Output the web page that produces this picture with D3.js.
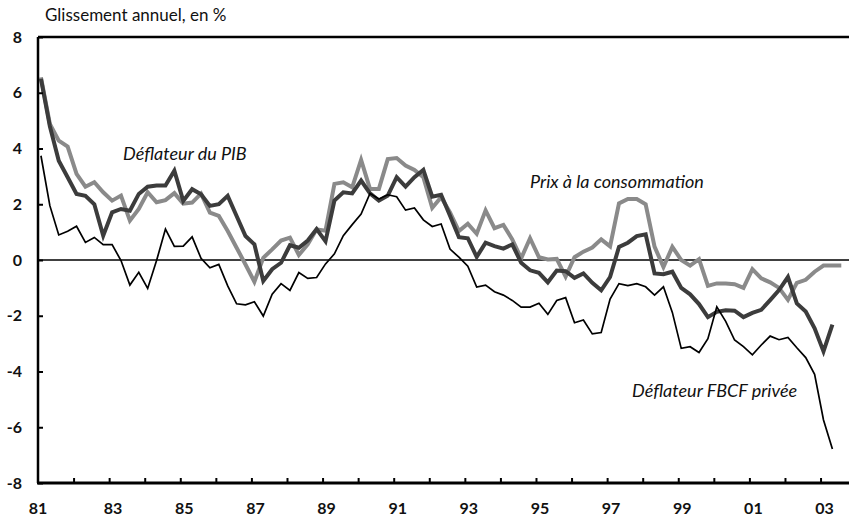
<!DOCTYPE html>
<html>
<head>
<meta charset="utf-8">
<script src="https://cdn.jsdelivr.net/npm/d3@7"></script>
<style>
  body { margin: 0; background: #fff; }
  svg { display: block; font-family: Lato, 'Open Sans', sans-serif; }
</style>
</head>
<body>
<div id="chart"></div>
<script>
// données trimestrielles, glissement annuel en %
const debut = 1981 + 1 / 12; // premier point : 1981 T1

const deflateurPib = [
  6.5, 4.8, 3.56, 2.97, 2.37, 2.3, 2.0, 0.87, 1.71, 1.83, 1.77, 2.37, 2.63, 2.67, 2.67, 3.2,
  2.12, 2.54, 2.36, 1.94, 2.0, 2.3, 1.58, 0.86, 0.56, -0.75, -0.33, -0.1, 0.53, 0.44, 0.7, 1.11,
  0.67, 2.13, 2.43, 2.39, 2.85, 2.39, 2.13, 2.31, 2.97, 2.63, 2.97, 3.23, 2.27, 2.34, 1.59, 0.82,
  0.78, 0.11, 0.62, 0.5, 0.41, 0.56, -0.1, -0.37, -0.46, -0.8, -0.38, -0.4, -0.64, -0.48, -0.82, -1.09,
  -0.61, 0.47, 0.62, 0.86, 0.92, -0.48, -0.51, -0.42, -1.0, -1.23, -1.58, -2.05, -1.86, -1.8, -1.82, -2.05,
  -1.9, -1.79, -1.44, -1.08, -0.61, -1.56, -1.85, -2.45, -3.28, -2.32
];

const prixConso = [
  6.55, 4.88, 4.28, 4.07, 3.09, 2.63, 2.79, 2.43, 2.13, 2.31, 1.41, 1.83, 2.43, 2.07, 2.15, 2.4,
  2.02, 2.06, 2.38, 1.7, 1.58, 1.04, 0.44, -0.16, -0.78, 0.08, 0.38, 0.7, 0.8, 0.18, 0.56, 1.1,
  1.05, 2.73, 2.79, 2.61, 3.59, 2.55, 2.55, 3.62, 3.66, 3.39, 3.23, 2.97, 1.87, 2.25, 1.71, 1.04,
  1.3, 0.94, 1.78, 1.14, 1.26, 0.74, 0.06, 0.78, 0.1, 0.02, 0.04, -0.6, 0.1, 0.3, 0.45, 0.74,
  0.49, 2.03, 2.19, 2.19, 2.0, 0.48, -0.25, 0.47, 0.0, -0.2, 0.03, -0.93, -0.84, -0.84, -0.87, -1.0,
  -0.33, -0.66, -0.8, -1.0, -1.43, -0.82, -0.71, -0.42, -0.2, -0.2, -0.2
];

const deflateurFbcf = [
  3.74, 1.95, 0.9, 1.03, 1.21, 0.63, 0.81, 0.55, 0.55, -0.02, -0.9, -0.44, -1.02, -0.02, 1.11, 0.49,
  0.5, 0.83, 0.06, -0.28, -0.16, -0.93, -1.57, -1.61, -1.5, -2.01, -1.23, -0.85, -1.09, -0.45, -0.66, -0.63,
  -0.14, 0.22, 0.87, 1.27, 1.65, 2.39, 2.19, 2.34, 2.27, 1.79, 1.87, 1.44, 1.2, 1.29, 0.39, 0.1,
  -0.22, -0.97, -0.9, -1.14, -1.26, -1.45, -1.69, -1.69, -1.55, -1.95, -1.45, -1.35, -2.25, -2.15, -2.65, -2.6,
  -1.4, -0.85, -0.92, -0.85, -0.96, -1.26, -0.96, -1.88, -3.17, -3.11, -3.32, -2.82, -1.68, -2.2, -2.87, -3.11,
  -3.4, -3.05, -2.73, -2.86, -2.78, -3.15, -3.5, -4.1, -5.74, -6.78
];

const anneesTicks = d3.range(1982, 2004);
const anneesLabels = [1981, 1983, 1985, 1987, 1989, 1991, 1993, 1995, 1997, 1999, 2001, 2003];
const yTicks = [-8, -6, -4, -2, 0, 2, 4, 6, 8];

const width = 849;
const height = 521;
const margin = {top: 37, right: 0, bottom: 38, left: 38};

const svg = d3.select('#chart').append('svg')
  .attr('width', width)
  .attr('height', height);

const x = d3.scaleLinear()
  .domain([1981, 2003.8])
  .range([margin.left, width - margin.right]);

const y = d3.scaleLinear()
  .domain([-8, 8])
  .range([height - margin.bottom, margin.top]);

const toPoints = serie => serie.map((v, i) => [debut + i / 4, v]);

const line = d3.line()
  .x(d => x(d[0]))
  .y(d => y(d[1]));

// titre de l'axe
svg.append('text')
  .attr('x', 45)
  .attr('y', 21)
  .attr('font-size', 17)
  .attr('fill', '#111')
  .text('Glissement annuel, en %');

// ligne du zéro
svg.append('line')
  .attr('x1', x(1981)).attr('x2', width)
  .attr('y1', y(0)).attr('y2', y(0))
  .attr('stroke', '#000')
  .attr('stroke-width', 1.5);

// courbes
const series = [
  {data: prixConso, color: '#8a8a8a', w: 4},
  {data: deflateurPib, color: '#3c3c3c', w: 4},
  {data: deflateurFbcf, color: '#000', w: 1.7}
];

svg.selectAll('path.serie')
  .data(series)
  .enter()
  .append('path')
  .attr('class', 'serie')
  .attr('fill', 'none')
  .attr('stroke', d => d.color)
  .attr('stroke-width', d => d.w)
  .attr('d', d => line(toPoints(d.data)));

// axe Y (graduations vers l'intérieur)
const gY = svg.append('g')
  .attr('transform', `translate(${margin.left},0)`)
  .call(d3.axisRight(y).tickValues(yTicks).tickSize(5).tickFormat(''));
gY.select('.domain').remove();
gY.selectAll('line').attr('stroke', '#000').attr('stroke-width', 2);

svg.append('g')
  .selectAll('text')
  .data(yTicks)
  .enter()
  .append('text')
  .attr('x', 22)
  .attr('y', d => y(d))
  .attr('dy', '0.35em')
  .attr('text-anchor', 'end')
  .attr('font-size', 16)
  .attr('font-weight', 'bold')
  .attr('fill', '#111')
  .text(d => d);

// axe X
const gX = svg.append('g')
  .attr('transform', `translate(0,${y(-8)})`)
  .call(d3.axisTop(x).tickValues(anneesTicks).tickSize(5).tickFormat(''));
gX.select('.domain').remove();
gX.selectAll('line').attr('stroke', '#000').attr('stroke-width', 2);

svg.append('g')
  .selectAll('text')
  .data(anneesLabels)
  .enter()
  .append('text')
  .attr('x', d => x(d) + (d === 1981 ? 0 : 4))
  .attr('y', y(-8) + 31)
  .attr('text-anchor', 'middle')
  .attr('font-size', 16)
  .attr('font-weight', 'bold')
  .attr('fill', '#111')
  .text(d => String(d).slice(2));

// cadre : gauche, haut, bas
svg.append('line')
  .attr('x1', margin.left).attr('x2', margin.left)
  .attr('y1', y(8)).attr('y2', y(-8))
  .attr('stroke', '#000').attr('stroke-width', 2.5);
svg.append('line')
  .attr('x1', margin.left).attr('x2', width)
  .attr('y1', y(8)).attr('y2', y(8))
  .attr('stroke', '#000').attr('stroke-width', 2.5);
svg.append('line')
  .attr('x1', margin.left - 1).attr('x2', width)
  .attr('y1', y(-8)).attr('y2', y(-8))
  .attr('stroke', '#000').attr('stroke-width', 3);

// étiquettes des courbes
const labels = [
  {t: 'Déflateur du PIB', x: 123, y: 160},
  {t: 'Prix à la consommation', x: 530, y: 188},
  {t: 'Déflateur FBCF privée', x: 632, y: 397}
];
svg.selectAll('text.lbl')
  .data(labels)
  .enter()
  .append('text')
  .attr('class', 'lbl')
  .attr('x', d => d.x)
  .attr('y', d => d.y)
  .attr('font-size', 18)
  .attr('font-style', 'italic')
  .attr('fill', '#111')
  .text(d => d.t);
</script>
</body>
</html>
